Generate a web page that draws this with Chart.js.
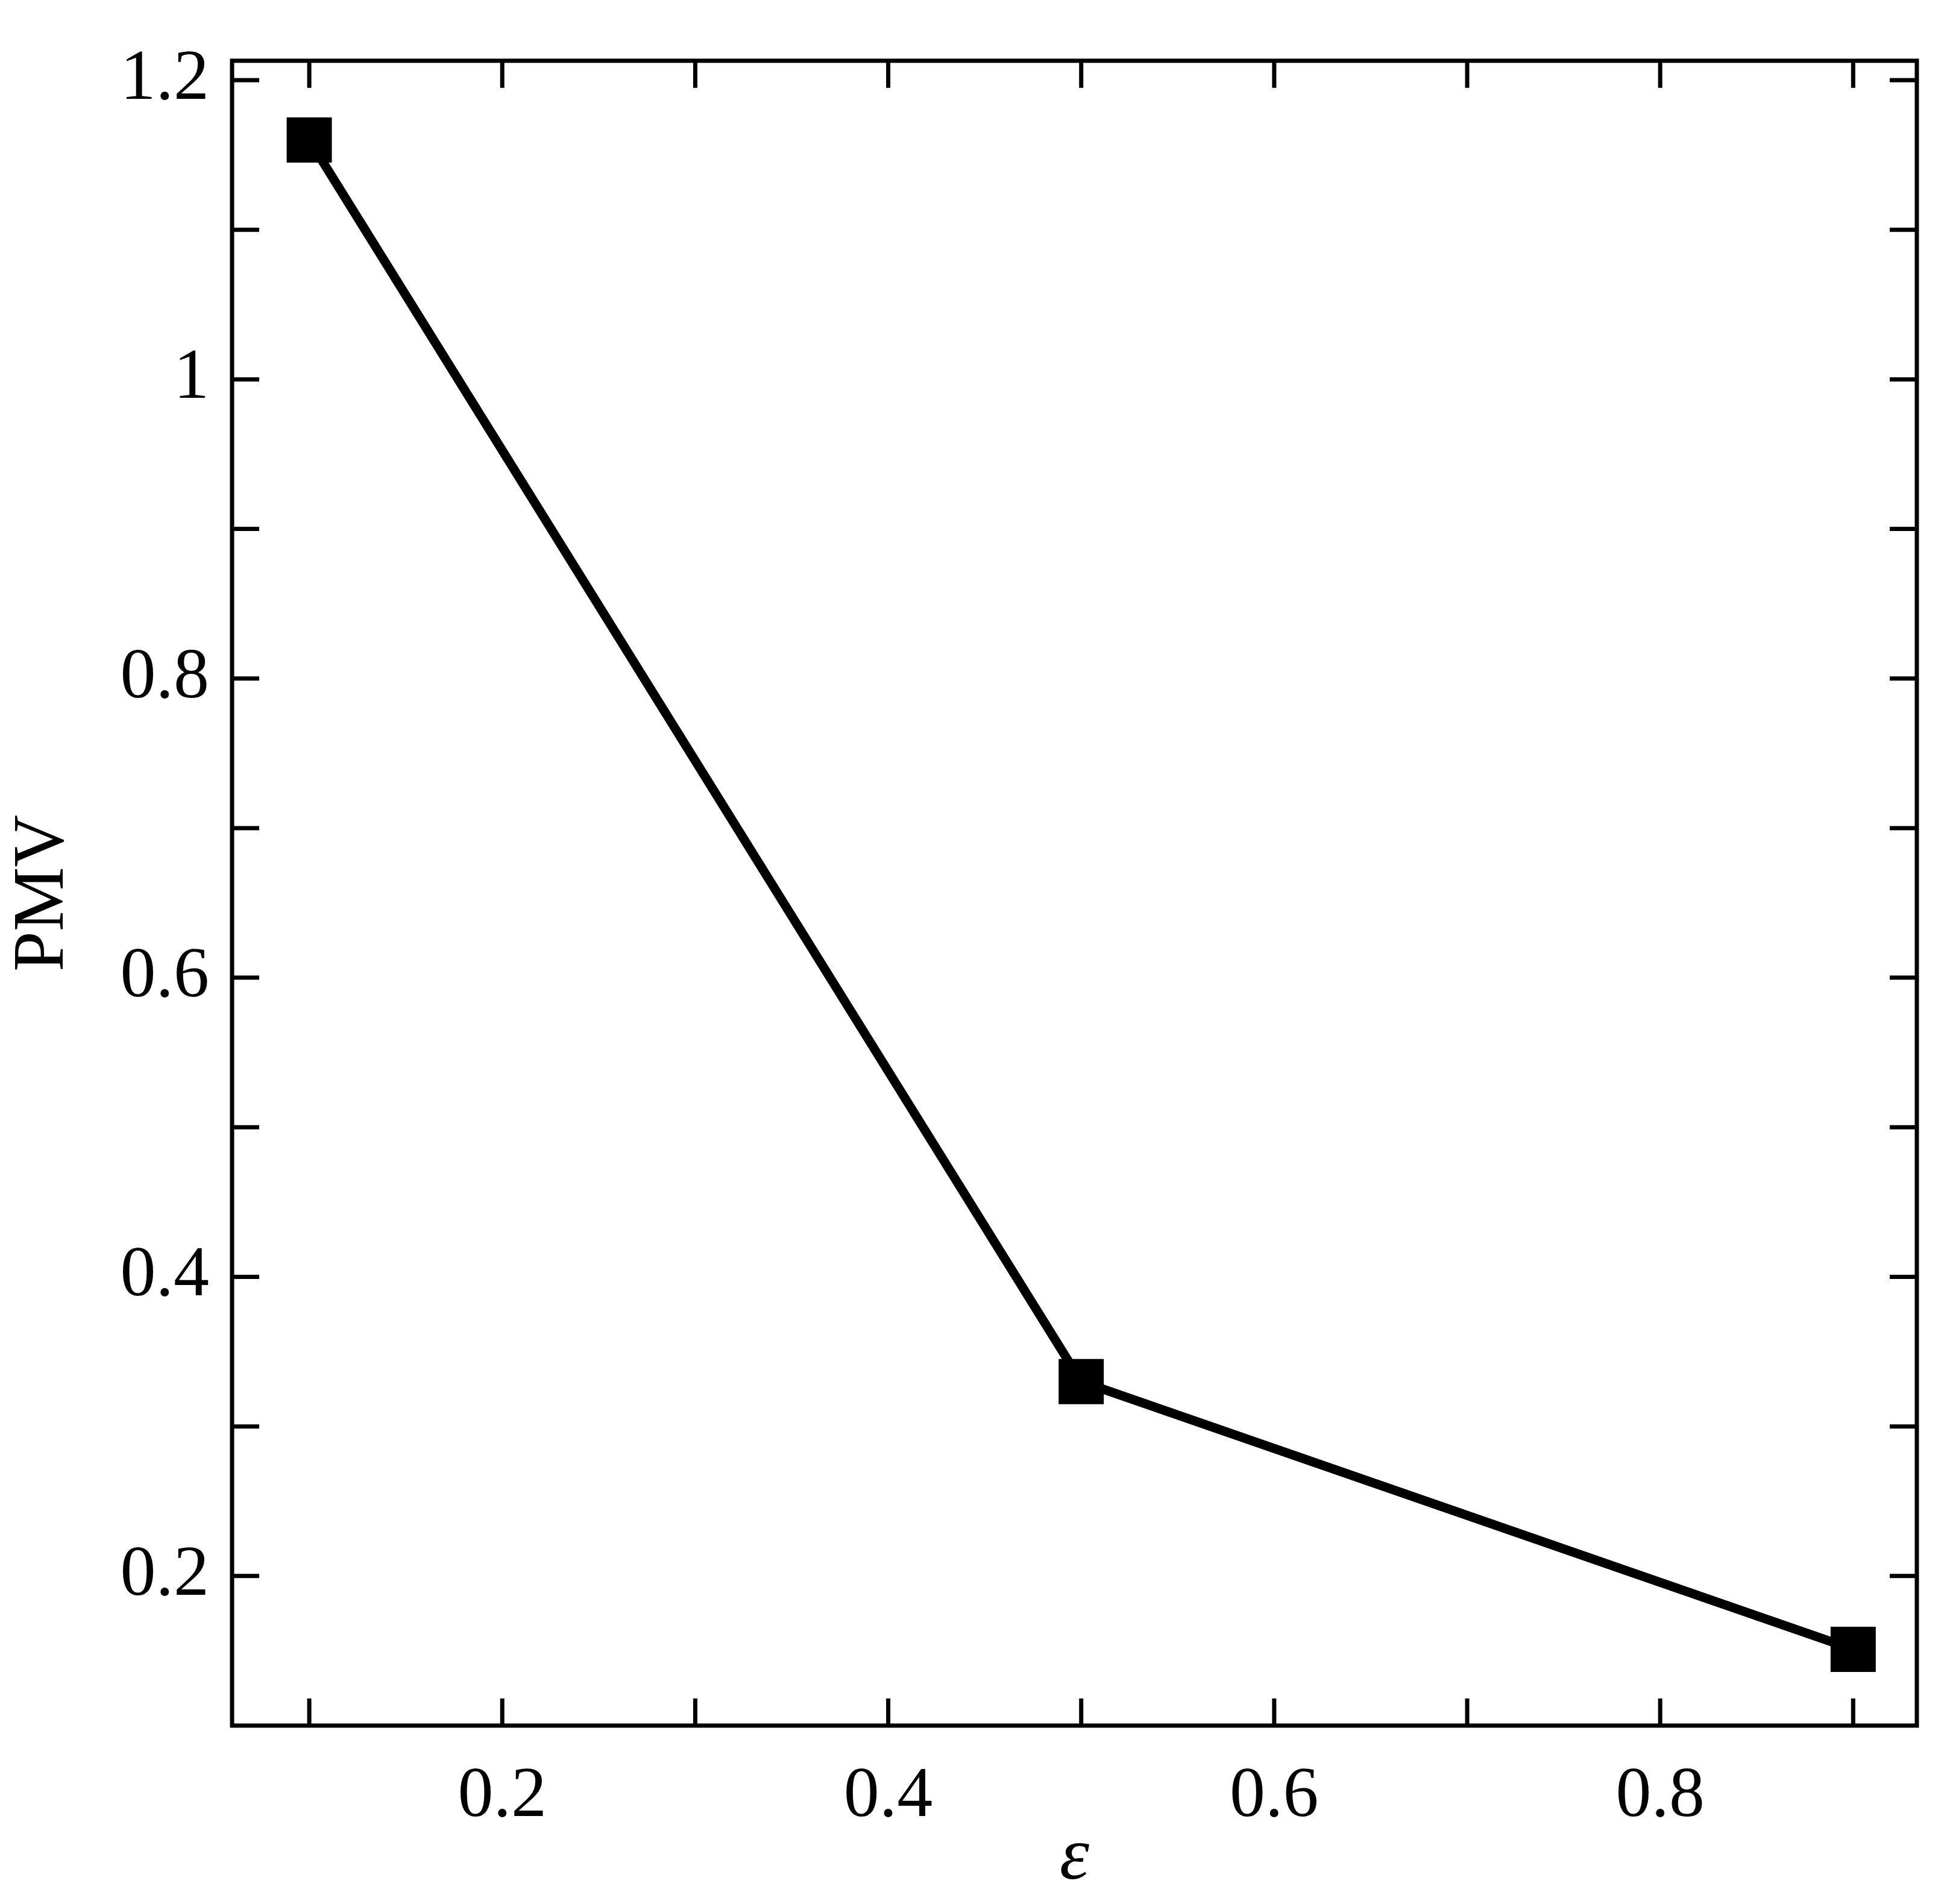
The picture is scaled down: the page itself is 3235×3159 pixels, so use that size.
<!DOCTYPE html>
<html>
<head>
<meta charset="utf-8">
<script src="https://cdn.jsdelivr.net/npm/chart.js@4"></script>
<style>
  html, body { margin: 0; padding: 0; background: #fff; }
  #wrap { width: 3235px; height: 3159px; }
</style>
</head>
<body>
<div id="wrap"><canvas id="chart-pmv"></canvas></div>
<script>
const epsilon = [0.1, 0.5, 0.9];
const pmv     = [1.16, 0.33, 0.151];
const xTicks  = [0.1, 0.2, 0.3, 0.4, 0.5, 0.6, 0.7, 0.8, 0.9];
const xLabels = [0.2, 0.4, 0.6, 0.8];
const yTicks  = [0.2, 0.3, 0.4, 0.5, 0.6, 0.7, 0.8, 0.9, 1.0, 1.1, 1.2];
const yLabels = [0.2, 0.4, 0.6, 0.8, 1.0, 1.2];

const FONT = "'Liberation Serif', 'Times New Roman', serif";
const near = (list, v) => list.some(t => Math.abs(t - v) < 1e-6);
const fmt = v => Math.abs(v - 1) < 1e-6 ? '1' : v.toFixed(1);

// frame + inward ticks on all four sides
const frameTicks = {
  id: 'frameTicks',
  afterDraw(chart) {
    const { ctx, chartArea: a, scales: { x, y } } = chart;
    const len = 45;
    ctx.save();
    ctx.strokeStyle = '#000';
    ctx.lineWidth = 7;
    ctx.strokeRect(a.left, a.top, a.right - a.left, a.bottom - a.top);
    ctx.beginPath();
    xTicks.forEach(v => {
      const px = x.getPixelForValue(v);
      ctx.moveTo(px, a.bottom); ctx.lineTo(px, a.bottom - len);
      ctx.moveTo(px, a.top);    ctx.lineTo(px, a.top + len);
    });
    yTicks.forEach(v => {
      const py = y.getPixelForValue(v);
      ctx.moveTo(a.left, py);  ctx.lineTo(a.left + len, py);
      ctx.moveTo(a.right, py); ctx.lineTo(a.right - len, py);
    });
    ctx.stroke();
    ctx.restore();
  }
};

new Chart(document.getElementById('chart-pmv'), {
  type: 'line',
  data: {
    datasets: [{
      data: epsilon.map((e, i) => ({ x: e, y: pmv[i] })),
      borderColor: '#000',
      backgroundColor: '#000',
      borderWidth: 15,
      pointStyle: 'rect',
      pointRadius: 53,
      pointBackgroundColor: '#000',
      pointBorderWidth: 0,
      tension: 0,
    }]
  },
  options: {
    responsive: true,
    maintainAspectRatio: false,
    animation: false,
    layout: { padding: { top: 0, right: 55 } },
    plugins: { legend: { display: false }, tooltip: { enabled: false } },
    scales: {
      x: {
        type: 'linear',
        min: 0.06, max: 0.933,
        afterFit: s => { s.height = 296; },
        border: { display: false },
        grid: { display: false },
        ticks: {
          stepSize: 0.1, includeBounds: false, autoSkip: false, maxRotation: 0,
          padding: 40, color: '#000', font: { family: FONT, size: 118 },
          callback: v => near(xLabels, v) ? fmt(v) : ''
        },
        title: { display: true, text: 'ε', color: '#000', padding: 0,
                 font: { family: FONT, size: 125, style: 'italic' } }
      },
      y: {
        min: 0.1, max: 1.213,
        afterFit: s => { s.width = 385; },
        border: { display: false },
        grid: { display: false },
        ticks: {
          stepSize: 0.1, includeBounds: false, autoSkip: false,
          padding: 30, color: '#000', font: { family: FONT, size: 118 },
          callback: v => near(yLabels, v) ? fmt(v) : ''
        },
        title: { display: true, text: 'PMV', color: '#000', padding: 0,
                 font: { family: FONT, size: 120 } }
      }
    }
  },
  plugins: [frameTicks]
});
</script>
</body>
</html>
